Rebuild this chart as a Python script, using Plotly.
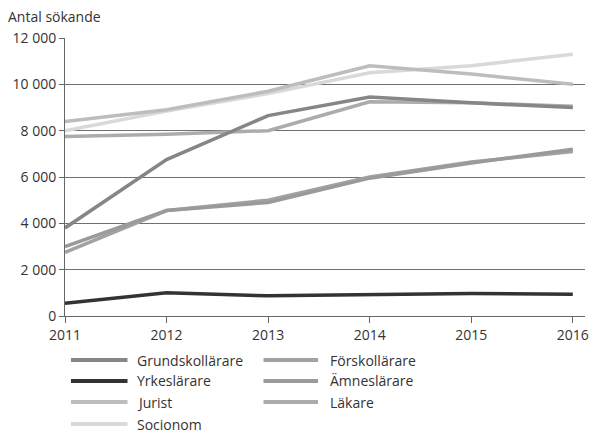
import plotly.graph_objects as go

years = [2011, 2012, 2013, 2014, 2015, 2016]
series_names = ["Grundskollärare", "Förskollärare", "Yrkeslärare", "Ämneslärare",
                "Jurist", "Läkare", "Socionom"]
grundskollarare = [3800, 6750, 8650, 9450, 9200, 9000]
forskollarare = [2750, 4550, 5000, 6000, 6650, 7100]
yrkeslarare = [550, 1000, 870, 920, 970, 940]
amneslarare = [3000, 4550, 4900, 5950, 6600, 7200]
jurist = [8400, 8900, 9700, 10800, 10450, 10000]
lakare = [7750, 7850, 8000, 9250, 9200, 9050]
socionom = [8000, 8850, 9600, 10500, 10800, 11300]
series_values = [grundskollarare, forskollarare, yrkeslarare, amneslarare,
                 jurist, lakare, socionom]
colors = ["#868686", "#a2a2a2", "#333333", "#9a9a9a", "#bdbdbd", "#acacac", "#d9d9d9"]
y_tickvals = [0, 2000, 4000, 6000, 8000, 10000, 12000]
y_ticktext = ["0", "2 000", "4 000", "6 000", "8 000", "10 000", "12 000"]
x_ticktext = ["2011", "2012", "2013", "2014", "2015", "2016"]

FONT = "Open Sans"
TXT = "#333333"
FS = 14

fig = go.Figure()
# draw order: light ones first so darker stay visible
order = [6, 4, 5, 1, 3, 0, 2]
for i in order:
    fig.add_trace(go.Scatter(x=years, y=series_values[i], mode="lines",
                             name=series_names[i], line=dict(color=colors[i], width=3.5),
                             showlegend=False))

W, H = 593, 433
ml, mr, mt, mb = 65, 4, 38, 117
pw, ph = W - ml - mr, H - mt - mb

def px_x(x):
    return (x - ml) / pw

def px_y(y):
    return (H - mb - y) / ph

# manual legend (row-major, two columns)
shapes = []
annotations = []
col_sym = [(71, 128), (265, 320)]
col_txt = [136, 330]
row_y = [360, 381, 402, 424]
for k, name in enumerate(series_names):
    r, c = divmod(k, 2)
    shapes.append(dict(type="line", xref="paper", yref="paper",
                       x0=px_x(col_sym[c][0]), x1=px_x(col_sym[c][1]),
                       y0=px_y(row_y[r]), y1=px_y(row_y[r]),
                       line=dict(color=colors[k], width=4)))
    annotations.append(dict(text=name, xref="paper", yref="paper",
                            x=px_x(col_txt[c]), y=px_y(row_y[r]),
                            xanchor="left", yanchor="middle", showarrow=False,
                            font=dict(family=FONT, size=FS, color=TXT)))

annotations.append(dict(text="Antal sökande", xref="paper", yref="paper",
                        x=px_x(6), y=px_y(16), xanchor="left", yanchor="middle",
                        showarrow=False, font=dict(family=FONT, size=FS, color=TXT)))

fig.update_layout(
    width=W, height=H,
    margin=dict(l=ml, r=mr, t=mt, b=mb),
    paper_bgcolor="white", plot_bgcolor="white",
    font=dict(family=FONT, size=FS, color=TXT),
    shapes=shapes, annotations=annotations,
    xaxis=dict(range=[2011, 2016.12], tickvals=years, ticktext=x_ticktext,
               showgrid=False, zeroline=False, showline=True, linecolor="#666666",
               linewidth=1, ticks="outside", ticklen=6, tickcolor="#666666",
               tickfont=dict(family=FONT, size=FS, color=TXT)),
    yaxis=dict(range=[0, 12000], tickvals=y_tickvals, ticktext=y_ticktext,
               showgrid=True, gridcolor="#707070", gridwidth=1, zeroline=False,
               showline=True, linecolor="#666666", linewidth=1,
               ticks="outside", ticklen=5, tickcolor="#666666",
               tickfont=dict(family=FONT, size=FS, color=TXT)),
)

fig.write_html("out.html", config={"displayModeBar": False},
               post_script="document.body.style.margin='0';document.body.style.overflow='hidden';")
